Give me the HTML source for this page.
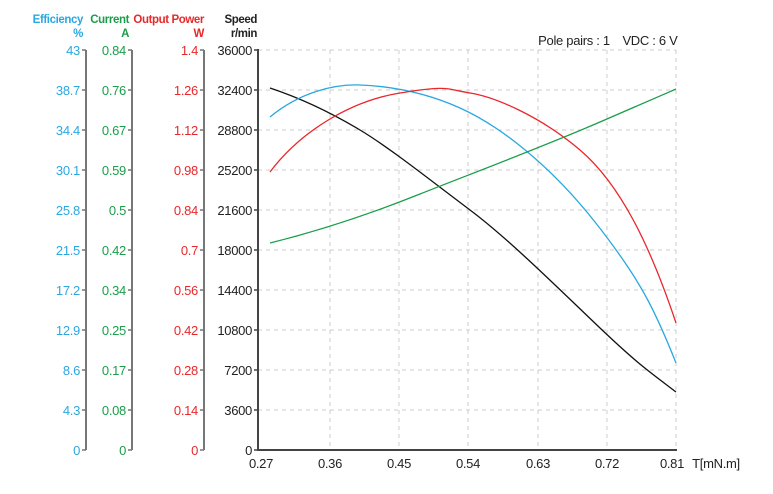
<!DOCTYPE html>
<html><head><meta charset="utf-8"><style>body{margin:0;background:#fff}svg{display:block}text{font-family:"Liberation Sans",sans-serif}</style></head><body>
<svg width="773" height="494" xmlns="http://www.w3.org/2000/svg">
<g font-size="11.5" font-weight="bold" text-anchor="end" letter-spacing="-0.4">
<text x="83" y="23" fill="#2aa8e0">Efficiency</text><text x="83" y="37" fill="#2aa8e0">%</text>
<text x="129" y="23" fill="#1a9e4a">Current</text><text x="129" y="37" fill="#1a9e4a">A</text>
<text x="204" y="23" fill="#e8282b">Output Power</text><text x="204" y="37" fill="#e8282b">W</text>
<text x="257" y="23" fill="#222">Speed</text><text x="257" y="37" fill="#222">r/min</text>
</g>
<g stroke="#777" stroke-width="2" fill="none">
<line x1="86" y1="50" x2="86" y2="450"/><line x1="132" y1="50" x2="132" y2="450"/><line x1="204" y1="50" x2="204" y2="450"/>
</g>
<g stroke="#ccc" stroke-dasharray="4,4" stroke-width="1">
<line x1="258" y1="50" x2="676" y2="50"/><line x1="258" y1="90" x2="676" y2="90"/><line x1="258" y1="130" x2="676" y2="130"/><line x1="258" y1="170" x2="676" y2="170"/><line x1="258" y1="210" x2="676" y2="210"/><line x1="258" y1="250" x2="676" y2="250"/><line x1="258" y1="290" x2="676" y2="290"/><line x1="258" y1="330" x2="676" y2="330"/><line x1="258" y1="370" x2="676" y2="370"/><line x1="258" y1="410" x2="676" y2="410"/>
<line x1="330" y1="50" x2="330" y2="450"/><line x1="399" y1="50" x2="399" y2="450"/><line x1="468" y1="50" x2="468" y2="450"/><line x1="538" y1="50" x2="538" y2="450"/><line x1="607" y1="50" x2="607" y2="450"/><line x1="676" y1="50" x2="676" y2="450"/>
</g>
<line x1="258" y1="49" x2="258" y2="451" stroke="#444" stroke-width="2"/>
<line x1="257" y1="450" x2="677" y2="450" stroke="#444" stroke-width="2"/>
<g font-size="13" text-anchor="end" letter-spacing="-0.3">
<g fill="#2aa8e0"><text x="80" y="55">43</text><text x="80" y="95">38.7</text><text x="80" y="135">34.4</text><text x="80" y="175">30.1</text><text x="80" y="215">25.8</text><text x="80" y="255">21.5</text><text x="80" y="295">17.2</text><text x="80" y="335">12.9</text><text x="80" y="375">8.6</text><text x="80" y="415">4.3</text><text x="80" y="455">0</text></g>
<g fill="#1a9e4a"><text x="126" y="55">0.84</text><text x="126" y="95">0.76</text><text x="126" y="135">0.67</text><text x="126" y="175">0.59</text><text x="126" y="215">0.5</text><text x="126" y="255">0.42</text><text x="126" y="295">0.34</text><text x="126" y="335">0.25</text><text x="126" y="375">0.17</text><text x="126" y="415">0.08</text><text x="126" y="455">0</text></g>
<g fill="#e8282b"><text x="198" y="55">1.4</text><text x="198" y="95">1.26</text><text x="198" y="135">1.12</text><text x="198" y="175">0.98</text><text x="198" y="215">0.84</text><text x="198" y="255">0.7</text><text x="198" y="295">0.56</text><text x="198" y="335">0.42</text><text x="198" y="375">0.28</text><text x="198" y="415">0.14</text><text x="198" y="455">0</text></g>
<g fill="#222"><text x="252" y="55">36000</text><text x="252" y="95">32400</text><text x="252" y="135">28800</text><text x="252" y="175">25200</text><text x="252" y="215">21600</text><text x="252" y="255">18000</text><text x="252" y="295">14400</text><text x="252" y="335">10800</text><text x="252" y="375">7200</text><text x="252" y="415">3600</text><text x="252" y="455">0</text></g>
</g>
<g stroke="#777" stroke-width="1.5">
<path d="M82 50h4M82 90h4M82 130h4M82 170h4M82 210h4M82 250h4M82 290h4M82 330h4M82 370h4M82 410h4M82 450h4"/>
<path d="M128 50h4M128 90h4M128 130h4M128 170h4M128 210h4M128 250h4M128 290h4M128 330h4M128 370h4M128 410h4M128 450h4"/>
<path d="M200 50h4M200 90h4M200 130h4M200 170h4M200 210h4M200 250h4M200 290h4M200 330h4M200 370h4M200 410h4M200 450h4"/>
<path d="M254 50h4M254 90h4M254 130h4M254 170h4M254 210h4M254 250h4M254 290h4M254 330h4M254 370h4M254 410h4M254 450h4" stroke="#444"/>
</g>
<g font-size="13" fill="#222" text-anchor="middle" letter-spacing="-0.3">
<text x="261" y="468">0.27</text><text x="330" y="468">0.36</text><text x="399" y="468">0.45</text><text x="468" y="468">0.54</text><text x="538" y="468">0.63</text><text x="607" y="468">0.72</text><text x="672" y="468">0.81</text>
<text x="716" y="468">T[mN.m]</text>
<text x="574" y="45">Pole pairs : 1</text><text x="650" y="45">VDC : 6 V</text>
</g>
<g fill="none" stroke-width="1.3">
<path stroke="#111" d="M270 88 C300 98,330 112,360 130 S430 180,470 210 S560 290,600 328 S650 372,676 392"/>
<path stroke="#2aa8e0" d="M270 117 C300 92,335 84,360 85 S420 90,460 108 S550 165,595 222 S655 310,676 363"/>
<path stroke="#e8282b" d="M270 172 C300 132,350 101,400 93 S445 89,470 93 S540 116,580 150 S650 245,676 323"/>
<path stroke="#1a9e4a" d="M270 243 C330 228,380 210,420 194 S540 148,600 122 S660 96,676 89"/>
</g>
</svg>
</body></html>
